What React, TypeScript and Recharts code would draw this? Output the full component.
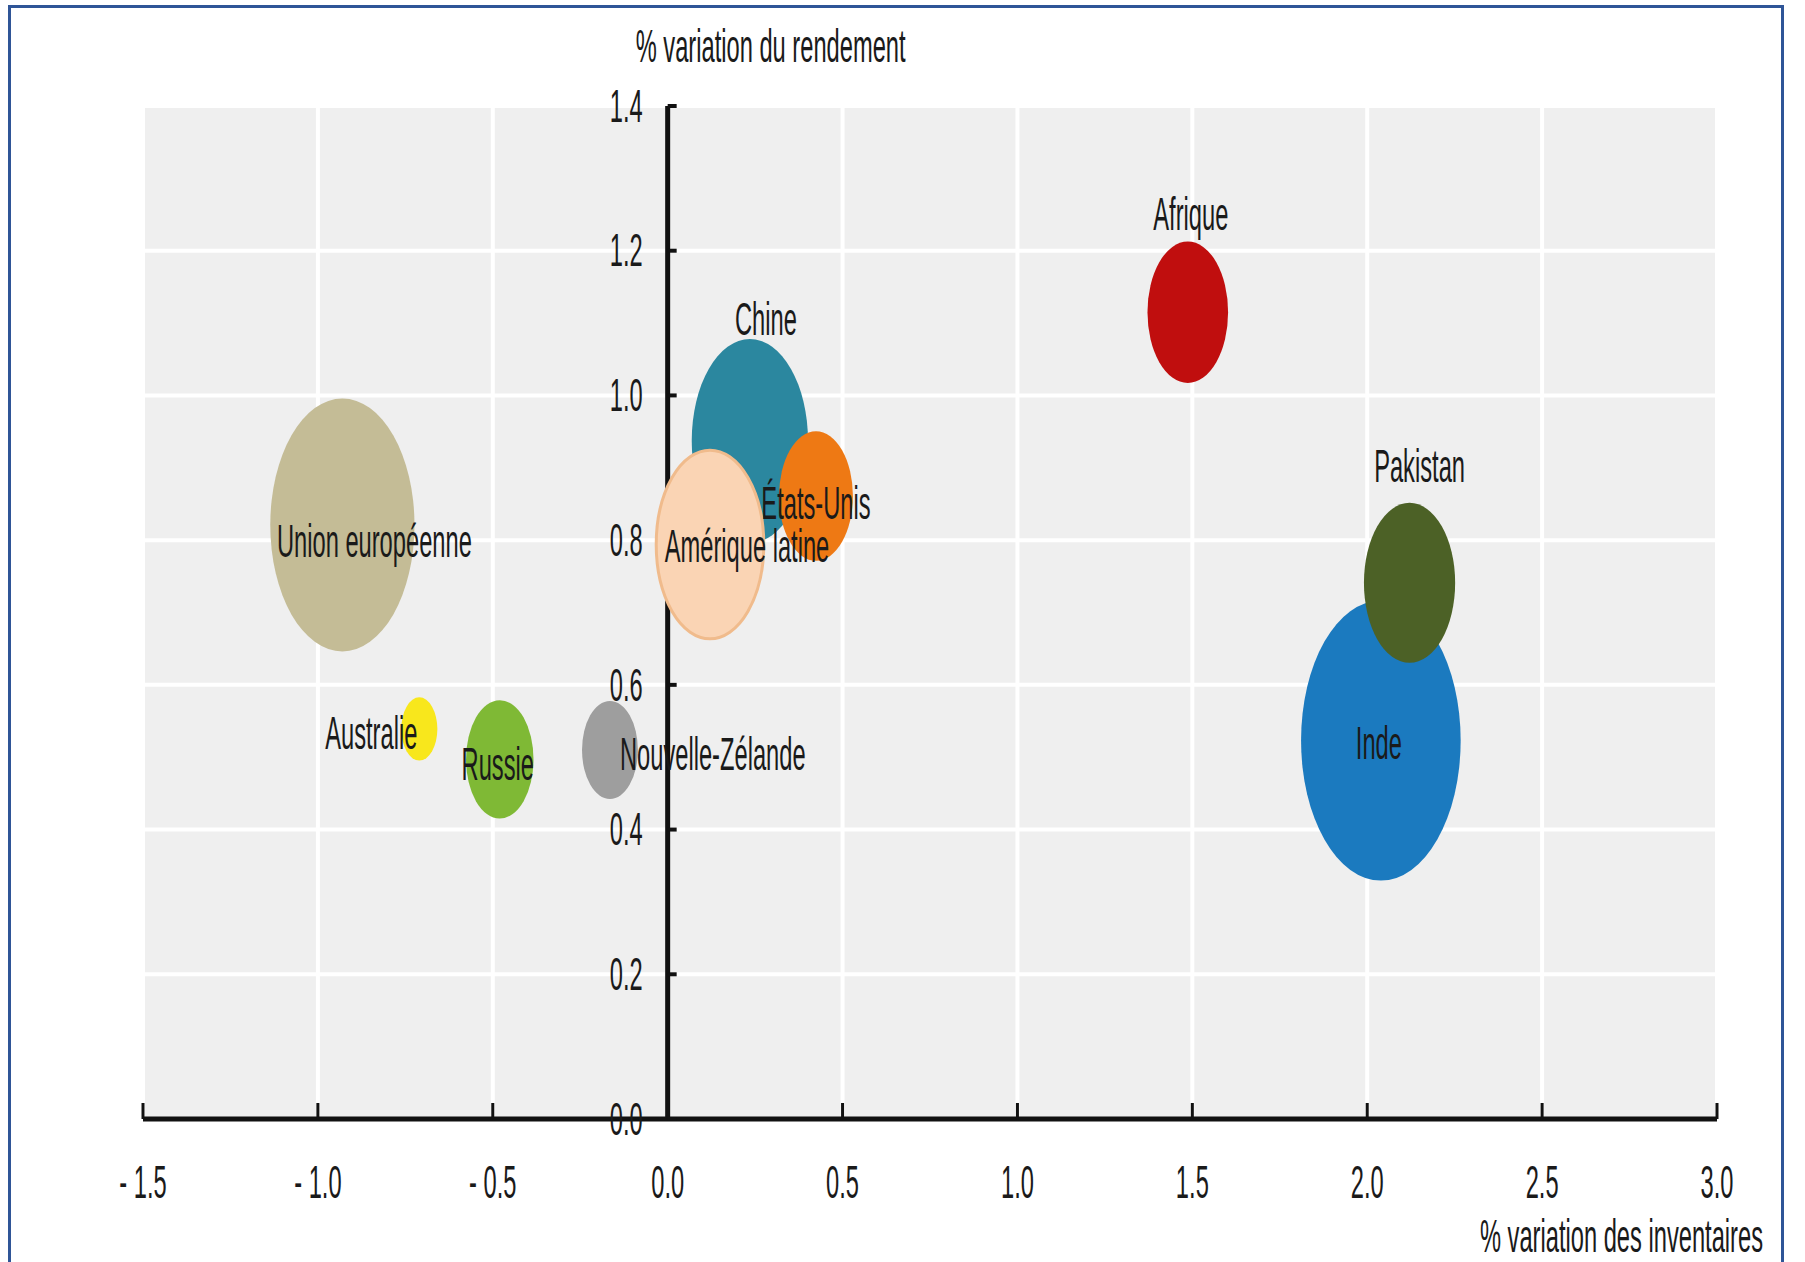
import {
  ScatterChart,
  Scatter,
  XAxis,
  YAxis,
  ZAxis,
  CartesianGrid,
  ReferenceLine,
  ReferenceDot,
} from 'recharts';

// values
const countries = [
  'Union européenne',
  'Australie',
  'Russie',
  'Nouvelle-Zélande',
  'Chine',
  'États-Unis',
  'Amérique latine',
  'Afrique',
  'Inde',
  'Pakistan',
];
const inventoryChange = [-0.93, -0.71, -0.48, -0.165, 0.235, 0.424, 0.121, 1.487, 2.039, 2.121];
const yieldChange = [0.821, 0.539, 0.497, 0.51, 0.937, 0.861, 0.794, 1.115, 0.523, 0.741];
const bubbleSize = [160, 10, 35, 24, 104, 42, 89, 50, 196, 64];

const xTicks = [-1.5, -1.0, -0.5, 0, 0.5, 1.0, 1.5, 2.0, 2.5, 3.0];
const yTicks = [0, 0.2, 0.4, 0.6, 0.8, 1.0, 1.2, 1.4];
const xTitle = '% variation des inventaires';
const yTitle = '% variation du rendement';

const colors: Record<string, string> = {
  'Union européenne': '#c4bc96',
  Australie: '#f8e71c',
  Russie: '#7fb935',
  'Nouvelle-Zélande': '#9e9e9e',
  Chine: '#2b879f',
  'États-Unis': '#ee7914',
  'Amérique latine': '#fad4b4',
  Afrique: '#c00e0e',
  Inde: '#1b7abf',
  Pakistan: '#4c6126',
};

// where each name sits relative to its bubble, in px
const labelPlacement: Record<string, { dx: number; dy: number; anchor: string }> = {
  'Union européenne': { dx: 32, dy: 16, anchor: 'middle' },
  Australie: { dx: -2, dy: 4, anchor: 'end' },
  Russie: { dx: -2, dy: 5, anchor: 'middle' },
  'Nouvelle-Zélande': { dx: 10, dy: 4, anchor: 'start' },
  Chine: { dx: 16, dy: -122, anchor: 'middle' },
  'États-Unis': { dx: 0, dy: 7, anchor: 'middle' },
  'Amérique latine': { dx: 37, dy: 2, anchor: 'middle' },
  Afrique: { dx: 3, dy: -98, anchor: 'middle' },
  Inde: { dx: -2, dy: 3, anchor: 'middle' },
  Pakistan: { dx: 10, dy: -117, anchor: 'middle' },
};

const data = countries.map((name, i) => ({
  name,
  x: inventoryChange[i],
  y: yieldChange[i],
  z: bubbleSize[i],
}));

const FONT = '"Liberation Sans", Arial, sans-serif';
const SQUEEZE = 0.515; // the whole original is squashed sideways
const INK = '#1a1a1a';

function Txt({ x, y, anchor = 'middle', size = 46, children }: any) {
  return (
    <text
      transform={`translate(${x},${y}) scale(${SQUEEZE},1)`}
      textAnchor={anchor}
      dominantBaseline="central"
      fontFamily={FONT}
      fontSize={size}
      fill={INK}
    >
      {children}
    </text>
  );
}

const fmtX = (v: number) => (v < 0 ? `- ${Math.abs(v).toFixed(1)}` : v.toFixed(1));

function Bubble(props: any) {
  const { cx, cy, width, size, payload } = props;
  const r = width ? width / 2 : Math.sqrt((size || 0) / Math.PI);
  const isLatin = payload.name === 'Amérique latine';
  return (
    <ellipse
      cx={cx}
      cy={cy}
      rx={r * 0.57}
      ry={r}
      fill={colors[payload.name]}
      stroke={isLatin ? '#f0bb8c' : 'none'}
      strokeWidth={isLatin ? 3 : 0}
    />
  );
}

function BubbleLabel(props: any) {
  const { cx, cy, payload } = props;
  const p = labelPlacement[payload.name];
  return (
    <Txt x={cx + p.dx} y={cy + p.dy} anchor={p.anchor}>
      {payload.name}
    </Txt>
  );
}

export default function App() {
  return (
    <div
      style={{
        position: 'absolute',
        left: 0,
        top: 0,
        width: 1805,
        height: 1262,
        overflow: 'hidden',
        background: '#fff',
      }}
    >
      <div
        style={{
          position: 'absolute',
          left: 8,
          top: 5,
          width: 1770,
          height: 1300,
          border: '3px solid #2f5597',
        }}
      />
      <div style={{ position: 'absolute', left: 0, top: 0 }}>
        <ScatterChart
          width={1805}
          height={1262}
          margin={{ top: 106, right: 88, bottom: 43, left: 143 }}
        >
          <CartesianGrid
            fill="#efefef"
            stroke="#ffffff"
            strokeWidth={4}
            verticalValues={xTicks}
            horizontalValues={yTicks}
          />
          <XAxis
            type="number"
            dataKey="x"
            domain={[-1.5, 3]}
            ticks={xTicks}
            interval={0}
            height={100}
            tickSize={0}
            tickMargin={0}
            tickLine={false}
            axisLine={{ stroke: '#111', strokeWidth: 5 }}
            tick={(p: any) => (
              <Txt x={p.x} y={p.y + 63}>
                {fmtX(p.payload.value)}
              </Txt>
            )}
          />
          <YAxis type="number" dataKey="y" domain={[0, 1.4]} ticks={yTicks} hide width={0} />
          <ZAxis type="number" dataKey="z" domain={[0, 200]} range={[0, 62832]} />

          <ReferenceLine x={0} stroke="#111" strokeWidth={5} />

          {xTicks.map((v) => (
            <ReferenceDot
              key={`xt${v}`}
              x={v}
              y={0}
              shape={(p: any) => (
                <line x1={p.cx} y1={p.cy} x2={p.cx} y2={p.cy - 16} stroke="#111" strokeWidth={3} />
              )}
            />
          ))}
          {yTicks.map((v) => (
            <ReferenceDot
              key={`yt${v}`}
              x={0}
              y={v}
              shape={(p: any) => (
                <g>
                  <line x1={p.cx} y1={p.cy} x2={p.cx + 9} y2={p.cy} stroke="#111" strokeWidth={4} />
                  <Txt x={p.cx - 25} y={p.cy} anchor="end">
                    {v.toFixed(1)}
                  </Txt>
                </g>
              )}
            />
          ))}

          <Scatter data={data} shape={Bubble} isAnimationActive={false} />
          <Scatter data={data} shape={BubbleLabel} isAnimationActive={false} />

          <ReferenceDot
            x={0}
            y={1.4}
            shape={(p: any) => (
              <Txt x={p.cx - 32} y={p.cy - 60} anchor="start">
                {yTitle}
              </Txt>
            )}
          />
          <ReferenceDot
            x={3}
            y={0}
            shape={(p: any) => (
              <Txt x={p.cx + 46} y={p.cy + 117} anchor="end">
                {xTitle}
              </Txt>
            )}
          />
        </ScatterChart>
      </div>
    </div>
  );
}
